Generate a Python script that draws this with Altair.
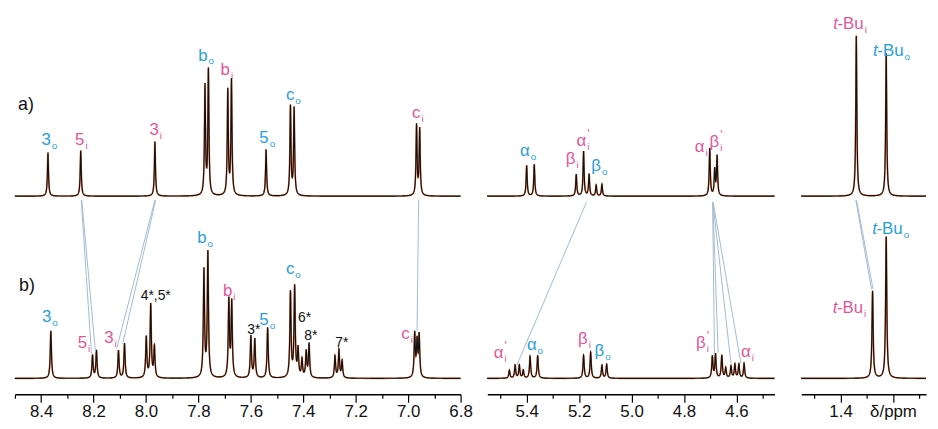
import numpy as np
import pandas as pd
import altair as alt

# ---------------- data ----------------
# spectrum a) : peak positions (ppm) and heights (px units above baseline)
A_PPM = [8.374, 8.249, 7.966, 7.775, 7.762, 7.688, 7.674, 7.542, 7.449, 7.435,
         6.968, 6.956,
         5.400, 5.371, 5.211, 5.183, 5.162, 5.135, 5.113, 4.702, 4.683, 4.674,
         1.340, 1.226]
A_H = [44, 46, 55, 110, 126, 106, 116, 47, 90, 88,
       71, 67,
       31, 32, 22, 45, 22, 11, 12, 48, 26, 40,
       162, 144]

# spectrum b)
B_PPM = [8.363, 8.204, 8.189, 8.105, 8.082, 7.999, 7.982, 7.968, 7.779, 7.764,
         7.684, 7.673, 7.600, 7.585, 7.536, 7.449, 7.433, 7.420, 7.405, 7.389,
         7.378, 7.279, 7.264, 7.252, 6.975, 6.966, 6.958,
         5.466, 5.444, 5.428, 5.413, 5.387, 5.358, 5.183, 5.156, 5.113, 5.095,
         4.692, 4.680, 4.656, 4.641, 4.621, 4.606, 4.591, 4.571,
         1.278, 1.226]
B_H = [48, 23, 28, 28, 35, 41, 74, 31, 108, 126,
       78, 76, 42, 39, 51, 86, 91, 28, 18, 26,
       34, 22, 28, 17, 44, 35, 42,
       8, 13, 13, 8, 22, 23, 23, 26, 13, 14,
       22, 24, 23, 10, 12, 14, 14, 15,
       88, 143]

A_BASE = 200
B_BASE = 16

# peak labels: main glyph, subscript (i = inside / o = outside), prime, prefix
LAB_MAIN = ["3", "5", "3", "b", "b", "5", "c", "c", "α", "β", "α", "β", "α", "β", "-Bu", "-Bu",
            "3", "5", "3", "b", "b", "5", "c", "c", "α", "α", "β", "β", "β", "α", "-Bu", "-Bu"]
LAB_SUB = ["o", "i", "i", "o", "i", "o", "o", "i", "o", "i", "i", "o", "i", "i", "i", "o",
           "o", "i", "i", "o", "i", "o", "o", "i", "i", "o", "i", "o", "i", "i", "i", "o"]
LAB_SUP = ["", "", "", "", "", "", "", "", "", "", "'", "", "", "'", "", "",
           "", "", "", "", "", "", "", "", "'", "", "", "", "'", "", "", ""]
LAB_PRE = [""] * 14 + ["t", "t"] + [""] * 14 + ["t", "t"]
LAB_PPM = [8.363, 8.235, 7.951, 7.765, 7.680, 7.532, 7.434, 6.953, 5.388, 5.214, 5.173, 5.117,
           4.722, 4.666, 1.312, 1.160,
           8.361, 8.225, 8.124, 7.769, 7.671, 7.532, 7.434, 6.994, 5.488, 5.362, 5.167, 5.104,
           4.717, 4.546, 1.314, 1.163]
LAB_Y = [252, 252, 262, 337, 322, 254, 297, 279, 241, 232, 251, 225, 245, 250, 369, 342,
         73, 47, 52, 153, 99, 70, 121, 56, 37, 45, 51, 39, 47, 38, 82, 162]

# impurity labels
STAR_TEXT = ["4*,5*", "3*", "6*", "8*", "7*"]
STAR_PPM = [7.963, 7.589, 7.395, 7.371, 7.253]
STAR_Y = [95, 61, 73, 55, 48]

# trace tags
TAG_TEXT = ["a)", "b)"]
TAG_PPM = [8.458, 8.454]
TAG_Y = [287, 104]

# correlation lines between the two spectra
CON_X1 = [8.247, 8.245, 7.966, 7.963, 6.960, 5.172, 4.691, 4.690, 4.690, 4.689, 1.342, 1.339]
CON_Y1 = [196, 196, 196, 196, 196, 194, 194, 194, 194, 194, 196, 196]
CON_X2 = [8.208, 8.193, 8.112, 8.089, 6.966, 5.438, 4.684, 4.670, 4.621, 4.583, 1.282, 1.276]
CON_Y2 = [41, 43, 46, 51, 64, 29, 42, 42, 31, 31, 106, 106]

# axis ticks
TICKS_L = [6.8, 6.9, 7.0, 7.1, 7.2, 7.3, 7.4, 7.5, 7.6, 7.7, 7.8, 7.9, 8.0, 8.1, 8.2, 8.3, 8.4, 8.5]
TICKS_M = [4.5, 4.6, 4.7, 4.8, 4.9, 5.0, 5.1, 5.2, 5.3, 5.4, 5.5]
TICKS_R = [1.1, 1.2, 1.3, 1.4, 1.5]

# ---------------- styling ----------------
PINK = "#e5559a"
BLUE = "#27a0dc"
FONT = "Liberation Sans"
H = 386

PANELS = [
    ("left", 6.8, 8.5, 450, TICKS_L, False),
    ("mid", 4.455, 5.55, 290, TICKS_M, False),
    ("right", 1.074, 1.55, 126, TICKS_R, True),
]


def spectrum(ppm, h, base, lo, hi, gamma):
    grid = np.arange(lo, hi + 0.0006, 0.0006)
    inside = [p for p in ppm if lo <= p <= hi]
    grid = np.unique(np.concatenate([grid, np.array(inside)]))
    y = np.full_like(grid, float(base))
    for p, a in zip(ppm, h):
        y += a * gamma ** 2 / ((grid - p) ** 2 + gamma ** 2)
    return grid, y


labels = pd.DataFrame(dict(ppm=LAB_PPM, y=LAB_Y, main=LAB_MAIN, sub=LAB_SUB, sup=LAB_SUP, pre=LAB_PRE))
stars = pd.DataFrame(dict(ppm=STAR_PPM + TAG_PPM, y=STAR_Y + TAG_Y, t=STAR_TEXT + TAG_TEXT,
                          kind=["star"] * len(STAR_TEXT) + ["tag"] * len(TAG_TEXT)))
cons = pd.DataFrame(dict(x1=CON_X1, y1=CON_Y1, x2=CON_X2, y2=CON_Y2))

color_sub = alt.Color("sub:N", scale=alt.Scale(domain=["i", "o"], range=[PINK, BLUE]), legend=None)

charts = []
for name, lo, hi, w, ticks, last in PANELS:
    xa, ya = spectrum(A_PPM, A_H, A_BASE, lo, hi, 0.0024)
    xb, yb = spectrum(B_PPM, B_H, B_BASE, lo, hi, 0.0027)
    spec = pd.concat([pd.DataFrame(dict(ppm=np.round(xa, 5), y=np.round(ya, 2), s="a")),
                      pd.DataFrame(dict(ppm=np.round(xb, 5), y=np.round(yb, 2), s="b"))])

    parity = "abs(round(datum.value*10)) % 2 == 0"
    if last:
        lab_expr = f"abs(round(datum.value*10)) == 12 ? 'δ/ppm' : ({parity} ? format(datum.value, '.1f') : '')"
    else:
        lab_expr = f"{parity} ? format(datum.value, '.1f') : ''"
    ax = alt.Axis(values=ticks, labelExpr=lab_expr, title=None, grid=False,
                  tickSize={"expr": f"{parity} ? 8 : 4"}, tickColor="#000", tickWidth=1.2,
                  domainColor="#000", domainWidth=1.3, labelFont=FONT, labelFontSize=17,
                  labelColor="#111", labelPadding=1, labelFlush=False, labelOverlap=False,
                  labelAngle=0)
    xs = alt.Scale(domain=[lo, hi], reverse=True, nice=False, zero=False)
    ys = alt.Scale(domain=[0, H], nice=False, zero=False)

    def X(f):
        return alt.X(f, scale=xs, axis=ax, title=None)

    def Y(f):
        return alt.Y(f, scale=ys, axis=None, title=None)

    base = alt.Chart(spec)
    orange = base.mark_line(color="#e8774a", strokeWidth=1.7).encode(x=X("ppm:Q"), y=Y("y:Q"), detail="s:N")
    black = base.mark_line(color="#111111", strokeWidth=1.15).encode(x=X("ppm:Q"), y=Y("y:Q"), detail="s:N")

    inr = lambda v: (v >= lo) & (v <= hi)
    c = cons[inr(cons.x1)]
    rules = alt.Chart(c).mark_rule(color="#a3bbd0", strokeWidth=1).encode(
        x=X("x1:Q"), x2="x2:Q", y=Y("y1:Q"), y2="y2:Q")

    l = labels[inr(labels.ppm)]
    lc = alt.Chart(l)
    main_t = lc.mark_text(align="right", baseline="alphabetic", font=FONT, fontSize=17).encode(
        x=X("ppm:Q"), y=Y("y:Q"), text="main:N", color=color_sub)
    sub_t = lc.mark_text(align="left", baseline="alphabetic", font=FONT, fontSize=10, dx=1, dy=4).encode(
        x=X("ppm:Q"), y=Y("y:Q"), text="sub:N", color=color_sub)
    sup_t = lc.mark_text(align="left", baseline="alphabetic", font=FONT, fontSize=12, dx=1, dy=-8).encode(
        x=X("ppm:Q"), y=Y("y:Q"), text="sup:N", color=color_sub)
    pre_t = lc.mark_text(align="right", baseline="alphabetic", font=FONT, fontSize=17, fontStyle="italic",
                         dx=-26).encode(x=X("ppm:Q"), y=Y("y:Q"), text="pre:N", color=color_sub)
    layers = [orange, black, rules, main_t, sub_t, sup_t, pre_t]

    s = stars[inr(stars.ppm)]
    if len(s):
        sc = alt.Chart(s)
        layers.append(sc.transform_filter("datum.kind == 'star'").mark_text(
            align="center", baseline="alphabetic", font=FONT, fontSize=14, color="#111").encode(
            x=X("ppm:Q"), y=Y("y:Q"), text="t:N"))
        layers.append(sc.transform_filter("datum.kind == 'tag'").mark_text(
            align="center", baseline="alphabetic", font=FONT, fontSize=18, color="#111").encode(
            x=X("ppm:Q"), y=Y("y:Q"), text="t:N"))

    charts.append(alt.layer(*layers).properties(width=w, height=H))

chart = alt.hconcat(*charts, spacing=27, bounds="flush").properties(
    padding={"left": 2, "top": 0, "right": 0, "bottom": 0},
    background="white",
).configure_view(stroke="transparent")

chart.save("out.html", embed_options={"renderer": "svg", "actions": False})
